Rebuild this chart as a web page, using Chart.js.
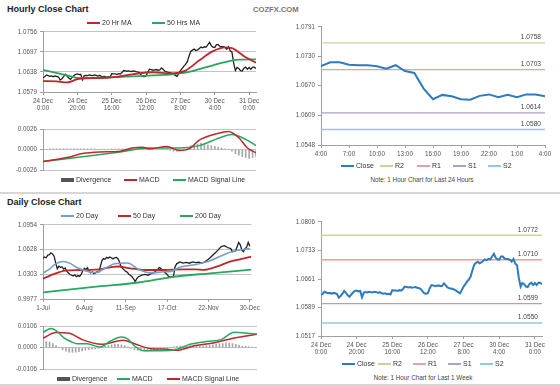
<!DOCTYPE html>
<html>
<head>
<meta charset="utf-8">
<title>Hourly and Daily Close Charts</title>
<script src="https://cdn.jsdelivr.net/npm/chart.js"></script>
<style>
    body, html { margin: 0; background: #fff; }
    #page { position: relative; width: 560px; height: 386px; overflow: hidden;
            font-family: "Liberation Sans", Arial, sans-serif; color: #333; }
    canvas { position: absolute; }
    .title { position: absolute; left: 7px; font-size: 9px; font-weight: bold; color: #222; }
    .brand { position: absolute; left: 253px; top: 5px; font-size: 7.6px; font-weight: bold; color: #777; }
    .note { position: absolute; width: 200px; text-align: center; font-size: 6.3px; color: #444; }
    .rule { position: absolute; left: 0; width: 560px; height: 2px; background: #d6d6d6; }
    .lg { position: absolute; font-size: 7px; line-height: 8px; color: #333; white-space: nowrap; }
    .lg i { display: inline-block; width: 13px; margin-right: 2px; vertical-align: middle; }
</style>
</head>
<body>
<div id="page">
    <div class="title" style="top:4px">Hourly Close Chart</div>
    <div class="brand">COZFX.COM</div>
    <canvas id="hourly" width="262" height="95" style="left:0;top:25px"></canvas>
    <canvas id="hourlyMacd" width="262" height="56" style="left:0;top:121px"></canvas>
    <canvas id="last24" width="274" height="145" style="left:280px;top:20px"></canvas>
    <div class="note" style="left:322px;top:176px">Note: 1 Hour Chart for Last 24 Hours</div>
    <div class="rule" style="top:192px"></div>
    <div class="title" style="top:197px">Daily Close Chart</div>
    <canvas id="daily" width="262" height="100" style="left:0;top:218px"></canvas>
    <canvas id="dailyMacd" width="262" height="58" style="left:0;top:318px"></canvas>
    <canvas id="lastWeek" width="274" height="145" style="left:280px;top:215px"></canvas>
    <div class="note" style="left:323px;top:374px">Note: 1 Hour Chart for Last 1 Week</div>
    <div class="rule" style="top:384px"></div>
</div>

<script>
    // ---- hourly data (24 Dec 0:00 .. 31 Dec 4:00, one value per hour) ----
    const hourTickIdx = [0, 20, 40, 60, 80, 100, 120];
    const hourTickLabels = [["24 Dec", "0:00"], ["24 Dec", "20:00"], ["25 Dec", "16:00"], ["26 Dec", "12:00"],
        ["27 Dec", "8:00"], ["30 Dec", "4:00"], ["31 Dec", "0:00"]];
    const hourlyClose = [
        1.0621, 1.0624, 1.0629, 1.0627, 1.0625, 1.0626, 1.0624, 1.0626, 1.0625, 1.0623,
        1.0614, 1.0618, 1.0624, 1.0631, 1.0626, 1.0620, 1.0616, 1.0622, 1.0627, 1.0631,
        1.0632, 1.0630, 1.0631, 1.0615, 1.0627, 1.0628, 1.0627, 1.0629, 1.0628, 1.0627,
        1.0629, 1.0628, 1.0626, 1.0628, 1.0625, 1.0624, 1.0625, 1.0623, 1.0624, 1.0622,
        1.0633, 1.0632, 1.0632, 1.0631, 1.0633, 1.0632, 1.0636, 1.0642, 1.0641, 1.0640,
        1.0641, 1.0639, 1.0640, 1.0641, 1.0639, 1.0638, 1.0636, 1.0630, 1.0625, 1.0624,
        1.0626, 1.0638, 1.0646, 1.0645, 1.0643, 1.0644, 1.0645, 1.0643, 1.0644, 1.0650,
        1.0645, 1.0640, 1.0638, 1.0637, 1.0636, 1.0634, 1.0631, 1.0628, 1.0625, 1.0633,
        1.0642, 1.0648, 1.0655, 1.0660, 1.0668, 1.0684, 1.0698, 1.0702, 1.0705, 1.0701,
        1.0703, 1.0707, 1.0711, 1.0709, 1.0712, 1.0711, 1.0718, 1.0725, 1.0715, 1.0711,
        1.0710, 1.0718, 1.0718, 1.0713, 1.0712, 1.0712, 1.0710, 1.0705, 1.0712, 1.0700,
        1.0696, 1.0664, 1.0642, 1.0651, 1.0648, 1.0642, 1.0641, 1.0649, 1.0652, 1.0646,
        1.0651, 1.0646, 1.0652, 1.0652, 1.0648
    ];
    const ma20Hr = [[0, 1.0611], [8, 1.0610], [14, 1.0607], [21, 1.0618], [33, 1.0620], [41, 1.0623],
        [52, 1.0631], [64, 1.0637], [75, 1.0634], [83, 1.0642], [91, 1.0672], [99, 1.0699],
        [106, 1.0710], [110, 1.0708], [118, 1.0681], [124, 1.0665]];
    const ma50Hr = [[0, 1.0644], [14, 1.0628], [21, 1.0620], [33, 1.0621], [52, 1.0625], [64, 1.0628],
        [75, 1.0631], [85, 1.0638], [95, 1.0652], [106, 1.0667], [114, 1.0674], [124, 1.0675]];
    const hourlyTicksY = [1.0579, 1.0638, 1.0697, 1.0756];

    const macdHr = [[0, -0.0015], [14, -0.0010], [23, -0.0005], [33, -0.0003], [45, -0.0002], [52, 0.0002],
        [58, 0.0003], [62, 0.0001], [72, 0.0004], [79, -0.0001], [85, 0.0001], [91, 0.0012],
        [101, 0.0020], [108, 0.0023], [114, 0.0015], [119, 0.0002], [124, -0.0004]];
    const signalHr = [[0, -0.0015], [23, -0.0009], [45, -0.0003], [62, 0.0002], [79, 0.0002], [91, 0.0005],
        [103, 0.0015], [110, 0.0019], [118, 0.0013], [124, 0.0005]];
    // divergence, one bar every 2 hours
    const divergenceHr = [
        0, 0, 0.0001, 0.0001, 0.0001, 0.0001, 0.0001, 0.0001, 0.0001, 0.0001, 0.0001,
        0.0001, 0.0001, 0.0001, 0.0001, 0.0001, 0, 0, 0, 0, 0.0001,
        0.0001, 0.0001, 0.0001, 0.0001, 0.0001, 0, 0, 0, 0, 0,
        0, 0.0001, 0.0001, 0.0001, 0.0001, 0, -0.0001, -0.0002, -0.0002, -0.0001,
        0.0001, 0.0003, 0.0005, 0.0006, 0.0007, 0.0008, 0.0007, 0.0006, 0.0005, 0.0004,
        0.0003, 0.0002, 0.0001, 0, -0.0002, -0.0005, -0.0007, -0.0009, -0.0010, -0.0011, -0.0010, -0.0009
    ];
    const macdHrTicksY = [-0.0026, 0, 0.0026];

    // ---- last 24 hours / last week ----
    const last24Labels = ["4:00", "5:00", "6:00", "7:00", "8:00", "9:00", "10:00", "11:00", "12:00", "13:00",
        "14:00", "15:00", "16:00", "17:00", "18:00", "19:00", "20:00", "21:00", "22:00", "23:00",
        "0:00", "1:00", "2:00", "3:00", "4:00"];
    const last24TickIdx = [0, 3, 6, 9, 12, 15, 18, 21, 24];
    const last24TicksY = [1.0548, 1.0609, 1.0670, 1.0730, 1.0791];
    const levelNames = ["R2", "R1", "S1", "S2"];
    const dayLevels = [1.0758, 1.0703, 1.0614, 1.0580];
    const weekLevels = [1.0772, 1.0710, 1.0599, 1.0550];
    const weekTicksY = [1.0517, 1.0589, 1.0661, 1.0733, 1.0806];

    // ---- daily data (1-Jul .. 30-Dec, trading day index) ----
    const dayTickIdx = [0, 26, 52, 78, 104, 130];
    const dayTickLabels = ["1-Jul", "6-Aug", "11-Sep", "17-Oct", "22-Nov", "30-Dec"];
    const dailyClose = [[0, 1.0513], [1, 1.0530], [2, 1.0520], [3, 1.0555], [4, 1.0560], [5, 1.0585],
        [6, 1.0570], [7, 1.0540], [8, 1.0450], [9, 1.0375], [10, 1.0410], [11, 1.0395], [12, 1.0400],
        [13, 1.0370], [14, 1.0385], [15, 1.0340], [16, 1.0320], [17, 1.0300], [18, 1.0290], [19, 1.0280],
        [20, 1.0295], [21, 1.0270], [22, 1.0285], [23, 1.0275], [24, 1.0300], [25, 1.0350], [26, 1.0380],
        [27, 1.0365], [28, 1.0390], [29, 1.0340], [30, 1.0320], [31, 1.0335], [32, 1.0310], [33, 1.0320],
        [34, 1.0340], [35, 1.0330], [36, 1.0400], [37, 1.0480], [38, 1.0510], [39, 1.0500], [40, 1.0525],
        [41, 1.0515], [42, 1.0530], [43, 1.0520], [44, 1.0505], [45, 1.0520], [46, 1.0525], [47, 1.0510],
        [48, 1.0470], [49, 1.0400], [50, 1.0380], [51, 1.0360], [52, 1.0340], [53, 1.0330], [54, 1.0300],
        [55, 1.0290], [56, 1.0270], [57, 1.0240], [58, 1.0205], [59, 1.0250], [60, 1.0270], [62, 1.0290],
        [64, 1.0300], [66, 1.0290], [68, 1.0310], [70, 1.0330], [72, 1.0360], [73, 1.0390], [74, 1.0380],
        [76, 1.0340], [78, 1.0300], [79, 1.0270], [80, 1.0265], [81, 1.0275], [82, 1.0270], [83, 1.0400],
        [84, 1.0440], [86, 1.0465], [88, 1.0450], [90, 1.0460], [92, 1.0448], [94, 1.0465], [96, 1.0455],
        [98, 1.0462], [100, 1.0450], [102, 1.0470], [104, 1.0500], [106, 1.0540], [108, 1.0580],
        [110, 1.0620], [112, 1.0668], [114, 1.0680], [116, 1.0655], [118, 1.0640], [119, 1.0600],
        [121, 1.0610], [123, 1.0722], [124, 1.0690], [125, 1.0620], [126, 1.0600], [127, 1.0640],
        [128, 1.0660], [129, 1.0722], [130, 1.0670]];
    const ma20Day = [[0, 1.0320], [4, 1.0370], [8, 1.0440], [13, 1.0470], [17, 1.0446], [21, 1.0395],
        [27, 1.0345], [33, 1.0324], [39, 1.0381], [45, 1.0440], [53, 1.0450], [60, 1.0370], [68, 1.0320],
        [76, 1.0335], [80, 1.0337], [86, 1.0395], [96, 1.0430], [105, 1.0480], [113, 1.0554],
        [121, 1.0611], [130, 1.0640]];
    const ma50Day = [[0, 1.0245], [8, 1.0315], [14, 1.0350], [23, 1.0359], [35, 1.0367], [47, 1.0405],
        [55, 1.0381], [64, 1.0359], [76, 1.0359], [88, 1.0367], [96, 1.0367], [101, 1.0360],
        [109, 1.0402], [117, 1.0465], [125, 1.0505], [131, 1.0536]];
    const ma200Day = [[0, 1.0065], [35, 1.0142], [60, 1.0194], [80, 1.0263], [105, 1.0315], [131, 1.0363]];
    const dailyTicksY = [0.9977, 1.0303, 1.0628, 1.0954];

    const macdDay = [[0, 0.0075], [5, 0.0094], [8, 0.0083], [13, 0.0047], [17, 0.0030], [21, 0.0019],
        [27, 0.0019], [35, 0.0003], [41, 0.0031], [48, 0.0052], [52, 0.0042], [56, 0.0008], [62, -0.0016],
        [72, -0.0016], [82, -0.0008], [90, 0.0016], [101, 0.0031], [109, 0.0039], [117, 0.0075],
        [125, 0.0071], [131, 0.0066]];
    const signalDay = [[0, 0.0047], [8, 0.0074], [16, 0.0071], [24, 0.0039], [36, 0.0016], [49, 0.0036],
        [56, 0.0019], [66, -0.0005], [76, -0.0008], [82, -0.0013], [92, 0.0008], [105, 0.0024],
        [117, 0.0047], [131, 0.0066]];
    // divergence, one bar every 2 days
    const divergenceDay = [
        0.0028, 0.0030, 0.0027, 0.0020, 0.0010, 0.0000, -0.0010, -0.0018, -0.0022, -0.0024, -0.0022,
        -0.0020, -0.0016, -0.0012, -0.0010, -0.0008, -0.0006, -0.0004, 0.0000, 0.0006, 0.0010, 0.0014,
        0.0016, 0.0016, 0.0014, 0.0010, 0.0004, -0.0004, -0.0010, -0.0014, -0.0016, -0.0018, -0.0018,
        -0.0016, -0.0014, -0.0010, -0.0008, -0.0006, -0.0004, 0.0000, 0.0004, 0.0006, 0.0008, 0.0008,
        0.0008, 0.0008, 0.0006, 0.0006, 0.0006, 0.0008, 0.0010, 0.0012, 0.0014, 0.0016, 0.0018,
        0.0020, 0.0022, 0.0022, 0.0020, 0.0016, 0.0012, 0.0008, 0.0006, 0.0004, 0.0002, 0.0000
    ];
    const macdDayTicksY = [-0.0106, 0, 0.0106];

    // ---- styling ----
    const RED = "#c0272d", GREEN = "#27a85e", BLUE = "#2e7bbf", LIGHTBLUE = "#6f9fcf";
    const levelColors = ["#c3d69b", "#e0a3a1", "#ad9fc8", "#8ccbe0"];

    Chart.defaults.font.family = '"Liberation Sans", Arial, sans-serif';
    Chart.defaults.font.size = 6.3;
    Chart.defaults.color = "#555";
    Chart.defaults.animation = false;
    Chart.defaults.plugins.legend.display = false;
    Chart.defaults.plugins.tooltip.enabled = false;
    Chart.defaults.elements.point.radius = 0;

    const page = document.getElementById("page");

    function yScale(ticks, width, grid) {
        return {
            min: ticks[0], max: ticks[ticks.length - 1],
            afterFit: s => { s.width = width; },
            afterBuildTicks: s => { s.ticks = ticks.map(v => ({ value: v })); },
            ticks: { callback: v => v.toFixed(4), padding: 3 },
            grid: { color: "#c4c4c4", drawOnChartArea: grid, tickLength: 3, tickColor: "#a0a0a0" },
            border: { color: "#a0a0a0" }
        };
    }

    function xScale(max, tickIdx, labels, height, show) {
        return {
            type: "linear", min: 0, max: max, offset: false, display: show,
            afterFit: s => { s.height = height; },
            afterBuildTicks: s => { s.ticks = tickIdx.map(v => ({ value: v })); },
            ticks: { callback: v => labels[tickIdx.indexOf(v)], maxRotation: 0, autoSkip: false, padding: 2 },
            grid: { drawOnChartArea: false, tickLength: 3, tickColor: "#a0a0a0" },
            border: { color: "#a0a0a0" }
        };
    }

    function line(label, data, color, width, extra) {
        return Object.assign({
            type: "line", label: label, data: data, borderColor: color, backgroundColor: color,
            borderWidth: width, cubicInterpolationMode: "monotone", fill: false
        }, extra || {});
    }

    function divergenceBars(values, step) {
        return {
            type: "bar", label: "Divergence", order: 5,
            data: values.map((v, i) => ({ x: i * step, y: v })),
            backgroundColor: "#a6a6a6", legendColor: "#555", barThickness: 1
        };
    }

    function levelLines(levels, lastIdx) {
        return levels.map((v, i) => line(levelNames[i], [[0, v], [lastIdx, v]], levelColors[i], 1.4,
            { level: v, order: 1 }));
    }

    // writes each level value above its line, at the right end
    const levelLabels = {
        id: "levelLabels",
        afterDatasetsDraw(chart) {
            const { ctx, chartArea, scales } = chart;
            ctx.save();
            ctx.font = '6.6px "Liberation Sans", Arial, sans-serif';
            ctx.fillStyle = "#444";
            ctx.textAlign = "right";
            ctx.textBaseline = "bottom";
            chart.data.datasets.forEach(d => {
                if (d.level === undefined) return;
                ctx.fillText(d.level.toFixed(4), chartArea.right - 4, scales.y.getPixelForValue(d.level) - 2);
            });
            ctx.restore();
        }
    };

    function htmlLegend(chart, top, xs) {
        chart.data.datasets.filter(d => d.label).forEach((d, i) => {
            const el = document.createElement("div");
            el.className = "lg";
            el.style.left = xs[i] + "px";
            el.style.top = top + "px";
            const sw = document.createElement("i");
            sw.style.background = d.legendColor || d.borderColor || d.backgroundColor;
            sw.style.height = (d.type === "bar" ? 4 : 2) + "px";
            el.appendChild(sw);
            el.appendChild(document.createTextNode(d.label));
            page.appendChild(el);
        });
    }

    function make(id, datasets, scales, padding, plugins) {
        return new Chart(document.getElementById(id), {
            type: "line",
            data: { datasets: datasets },
            options: { responsive: false, layout: { padding: padding }, scales: scales },
            plugins: plugins || []
        });
    }

    // Hourly close
    const hourlyPts = hourlyClose.map((v, i) => [i, v]);
    const hourly = make("hourly", [
        line("", hourlyPts, "#222", 1.3, { order: 2, cubicInterpolationMode: "default", tension: 0 }),
        line("20 Hr MA", ma20Hr, RED, 1.8),
        line("50 Hrs MA", ma50Hr, GREEN, 1.8)
    ], {
        x: xScale(124, hourTickIdx, hourTickLabels, 28, true),
        y: yScale(hourlyTicksY, 43, true)
    }, { top: 6, right: 6 });
    htmlLegend(hourly, 19, [87, 152]);

    const hourlyMacd = make("hourlyMacd", [
        divergenceBars(divergenceHr, 2),
        line("MACD", macdHr, RED, 1.5),
        line("MACD Signal Line", signalHr, GREEN, 1.5)
    ], {
        x: xScale(124, hourTickIdx, hourTickLabels, 0, false),
        y: yScale(macdHrTicksY, 43, true)
    }, { top: 8, right: 6, bottom: 5 });
    htmlLegend(hourlyMacd, 176, [61, 124, 173]);

    // Last 24 hours
    const last24 = make("last24", [
        line("Close", hourlyClose.slice(100).map((v, i) => [i, v]), BLUE, 2, { order: 0, cubicInterpolationMode: "default", tension: 0 }),
        ...levelLines(dayLevels, 24)
    ], {
        x: xScale(24, last24TickIdx, last24TickIdx.map(i => last24Labels[i]), 20, true),
        y: yScale(last24TicksY, 41, false)
    }, { top: 6, right: 9 }, [levelLabels]);
    htmlLegend(last24, 162, [341, 380, 417, 453, 488]);

    // Daily close
    const daily = make("daily", [
        line("", dailyClose, "#222", 1.3, { order: 2, cubicInterpolationMode: "default", tension: 0 }),
        line("20 Day", ma20Day, LIGHTBLUE, 1.6),
        line("50 Day", ma50Day, RED, 1.8),
        line("200 Day", ma200Day, GREEN, 1.8)
    ], {
        x: xScale(131, dayTickIdx, dayTickLabels, 19, true),
        y: yScale(dailyTicksY, 43, true)
    }, { top: 6, right: 5 });
    htmlLegend(daily, 212, [61, 118, 180]);

    const dailyMacd = make("dailyMacd", [
        divergenceBars(divergenceDay, 2),
        line("MACD", macdDay, GREEN, 1.5),
        line("MACD Signal Line", signalDay, RED, 1.5)
    ], {
        x: xScale(131, dayTickIdx, dayTickLabels, 0, false),
        y: yScale(macdDayTicksY, 43, true)
    }, { top: 8, right: 5, bottom: 5 });
    htmlLegend(dailyMacd, 375, [57, 117, 167]);

    // Last week
    const lastWeek = make("lastWeek", [
        line("Close", hourlyPts, BLUE, 2, { order: 0, cubicInterpolationMode: "default", tension: 0 }),
        ...levelLines(weekLevels, 124)
    ], {
        x: xScale(124, hourTickIdx, hourTickLabels, 24, true),
        y: yScale(weekTicksY, 41, false)
    }, { top: 6, right: 12 }, [levelLabels]);
    htmlLegend(lastWeek, 360, [342, 378, 413, 448, 480]);
</script>
</body>
</html>
